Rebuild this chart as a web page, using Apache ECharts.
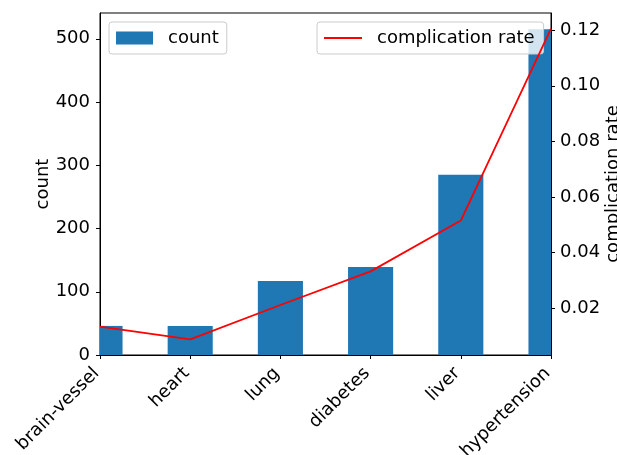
<!DOCTYPE html>
<html>
<head>
<meta charset="utf-8">
<script src="https://cdn.jsdelivr.net/npm/echarts@6/dist/echarts.min.js"></script>
<style>
  html, body { margin: 0; padding: 0; background: #fff; }
  #chart { width: 617px; height: 455px; }
</style>
</head>
<body>
<div id="chart"></div>
<script>
// Disease categories, patient counts and complication rates
const categories = ['brain-vessel', 'heart', 'lung', 'diabetes', 'liver', 'hypertension'];
const counts = [46, 46, 117, 139, 285, 515];
const complicationRates = [0.0133, 0.0087, 0.0211, 0.0332, 0.0515, 0.1206];
const countTicks = [0, 100, 200, 300, 400, 500];
const rateTicks = [0.02, 0.04, 0.06, 0.08, 0.10, 0.12];

// Axis limits padded by 5% of the data span
const countMax = Math.max(...counts) * 1.05;
const rMin = Math.min(...complicationRates), rMax = Math.max(...complicationRates);
const rPad = (rMax - rMin) * 0.05;

const FONT = 'DejaVu Sans';
const FS = 18;
const BAR_COLOR = '#1f77b4';

const chart = echarts.init(document.getElementById('chart'), null, { renderer: 'canvas' });

// Bars centred on the category ticks, half a band wide, clipped to the plot area
function renderBar(params, api) {
  const idx = api.value(0);
  const val = api.value(1);
  const top = api.coord([idx, val]);
  const base = api.coord([idx, 0]);
  const w = api.size([1, 0])[0] * 0.5;
  const cs = params.coordSys;
  const shape = echarts.graphic.clipRectByRect(
    { x: top[0] - w / 2, y: top[1], width: w, height: base[1] - top[1] },
    { x: cs.x, y: cs.y, width: cs.width, height: cs.height }
  );
  return shape && { type: 'rect', shape: shape, style: { fill: BAR_COLOR } };
}

chart.setOption({
  animation: false,
  backgroundColor: '#fff',
  textStyle: { fontFamily: FONT },
  grid: {
    left: 100, right: 66, top: 13, bottom: 100,
    outerBoundsMode: 'none',
    containLabel: false,
    show: true, borderColor: '#000', borderWidth: 1, backgroundColor: 'transparent'
  },
  legend: [
    {
      data: [{ name: 'count', icon: 'rect' }],
      left: 109, top: 22,
      itemWidth: 37, itemHeight: 13,
      padding: [7, 8, 7, 7],
      borderColor: '#cccccc', borderWidth: 1, borderRadius: 3,
      backgroundColor: 'rgba(255,255,255,0.8)',
      textStyle: { fontFamily: FONT, fontSize: FS, color: '#000', padding: [0, 0, 0, 10] }
    },
    {
      data: [{ name: 'complication rate', icon: 'path://M0,0 L38,0 L38,2 L0,2 Z' }],
      left: 317, top: 22,
      itemWidth: 38, itemHeight: 2,
      padding: [7, 9, 7, 7],
      borderColor: '#cccccc', borderWidth: 1, borderRadius: 3,
      backgroundColor: 'rgba(255,255,255,0.8)',
      textStyle: { fontFamily: FONT, fontSize: FS, color: '#000', padding: [0, 0, 0, 10] }
    }
  ],
  xAxis: {
    type: 'category',
    data: categories,
    boundaryGap: false,
    axisLine: { lineStyle: { color: '#000', width: 1 } },
    axisTick: { show: true, length: 4, lineStyle: { color: '#000' }, alignWithLabel: true },
    axisLabel: {
      rotate: 45, fontFamily: FONT, fontSize: FS, color: '#000',
      margin: 12, padding: [0, 5, 0, 0], interval: 0
    },
    splitLine: { show: false }
  },
  yAxis: [
    {
      type: 'value',
      min: 0, max: countMax,
      name: 'count', nameLocation: 'middle', nameGap: 48, nameRotate: 90,
      nameMoveOverlap: false,
      nameTextStyle: { fontFamily: FONT, fontSize: FS, color: '#000' },
      axisLine: { show: true, lineStyle: { color: '#000', width: 1 } },
      axisTick: { show: true, length: 4, lineStyle: { color: '#000' }, customValues: countTicks },
      axisLabel: { fontFamily: FONT, fontSize: FS, color: '#000', margin: 10, customValues: countTicks },
      splitLine: { show: false }
    },
    {
      type: 'value',
      min: rMin - rPad, max: rMax + rPad,
      position: 'right',
      name: 'complication rate', nameLocation: 'middle', nameGap: 53, nameRotate: 90,
      nameMoveOverlap: false,
      nameTextStyle: { fontFamily: FONT, fontSize: FS, color: '#000' },
      axisLine: { show: true, lineStyle: { color: '#000', width: 1 } },
      axisTick: { show: true, length: 4, lineStyle: { color: '#000' }, customValues: rateTicks },
      axisLabel: {
        fontFamily: FONT, fontSize: FS, color: '#000', margin: 9, customValues: rateTicks,
        formatter: v => v.toFixed(2)
      },
      splitLine: { show: false }
    }
  ],
  series: [
    {
      name: 'count',
      type: 'custom',
      yAxisIndex: 0,
      data: counts.map((c, i) => [i, c]),
      encode: { x: 0, y: 1 },
      renderItem: renderBar,
      itemStyle: { color: BAR_COLOR },
      z: 2
    },
    {
      name: 'complication rate',
      type: 'line',
      yAxisIndex: 1,
      data: complicationRates,
      symbol: 'none',
      clip: true,
      lineStyle: { color: '#ff0000', width: 1.8 },
      itemStyle: { color: '#ff0000' },
      z: 5
    }
  ]
});
</script>
</body>
</html>
